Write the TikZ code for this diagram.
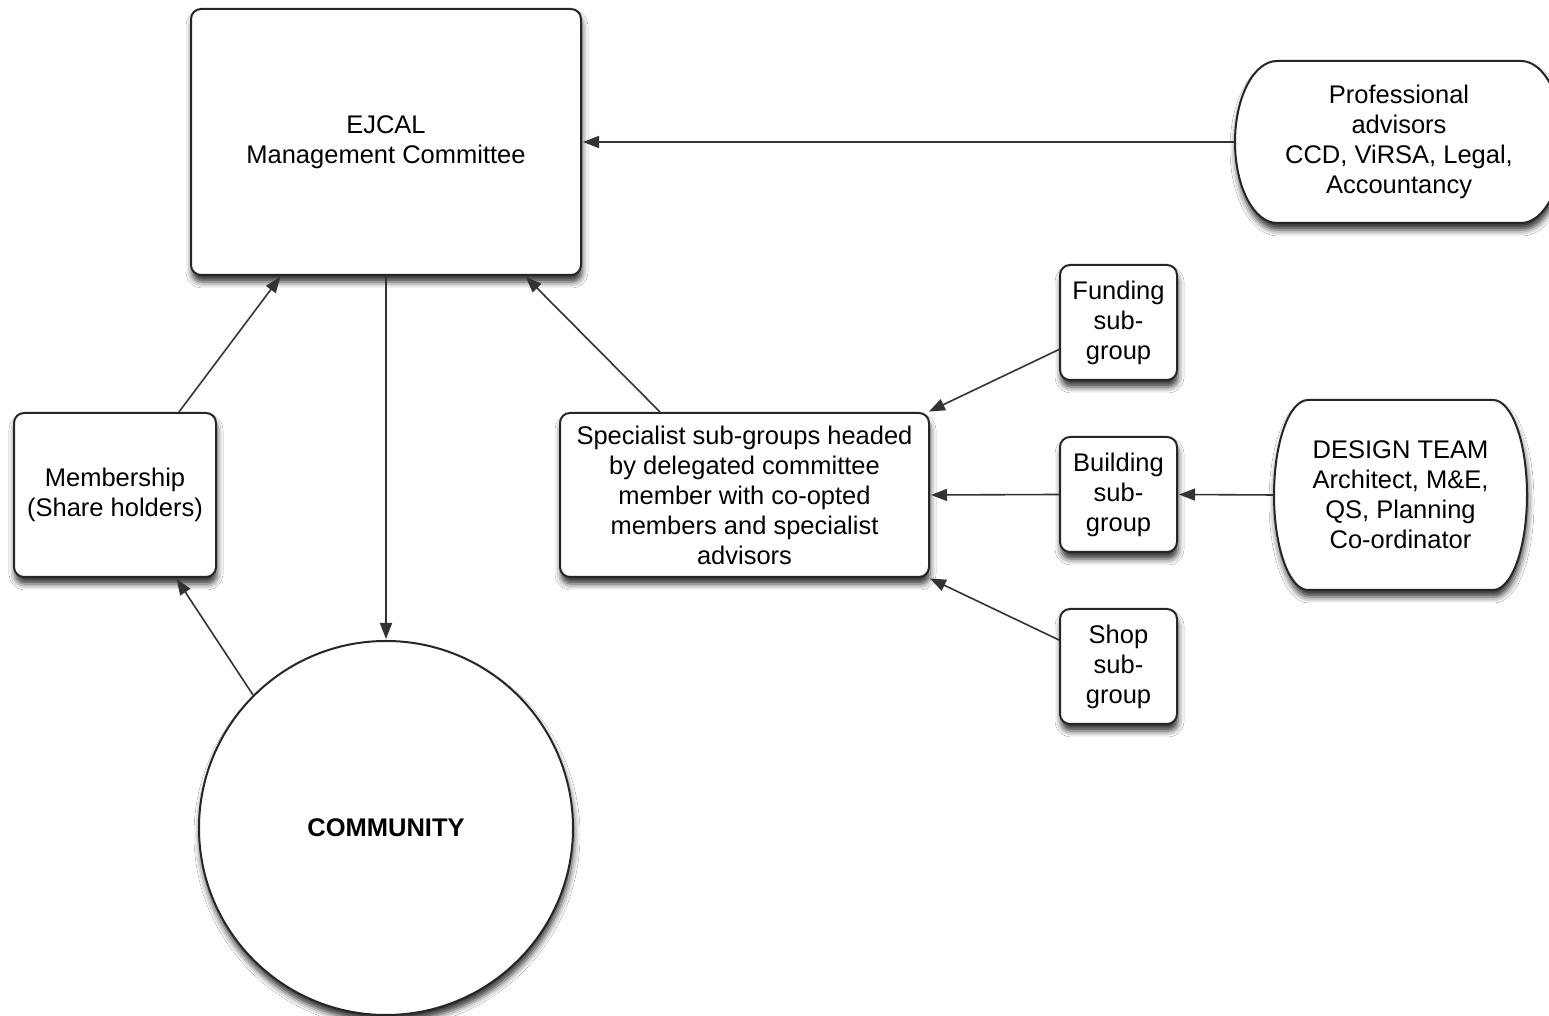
\documentclass[tikz,border=0pt]{standalone}
\usepackage{fontspec}
\setmainfont{Liberation Sans}
\usetikzlibrary{arrows.meta,calc,shadows.blur}
\begin{document}
\begin{tikzpicture}[x=1pt,y=1pt,
  font=\fontsize{25.5}{30}\selectfont,
  shad/.style={blur shadow={shadow xshift=1pt, shadow yshift=-7pt, shadow blur radius=6pt, shadow opacity=80}},
  box/.style={draw=black!85, line width=2pt, fill=white, rounded corners=10pt, inner sep=0pt, align=center, text=black, shad},
  plain/.style={inner sep=0pt, align=center, text=black},
  outline/.style={draw=black!85, line width=2pt, fill=white, shad},
  conn/.style={draw=black!80, line width=1.6pt, -{Triangle[length=16pt,width=12pt]}, shorten >=1pt}]
\useasboundingbox[fill=white] (0,0) rectangle (1549,1016);

% outlines of the two rounded-end shapes (text nodes placed on top below)
\draw[outline] (1277,955) -- (1521,955)
  arc[start angle=90, end angle=-90, x radius=42, y radius=81]
  -- (1277,793)
  arc[start angle=270, end angle=90, x radius=42, y radius=81] -- cycle;
\draw[outline] (1308,616) -- (1493,616)
  arc[start angle=90, end angle=-90, x radius=34, y radius=95]
  -- (1308,426)
  arc[start angle=270, end angle=90, x radius=34, y radius=95] -- cycle;

\node[box, minimum width=390, minimum height=266] (ej) at (386,874) {EJCAL\\Management Committee};
\node[plain, minimum width=328, minimum height=162] (pa) at (1399,874) {Professional\\advisors\\CCD, ViRSA, Legal,\\Accountancy};
\node[box, minimum width=202, minimum height=164] (mem) at (115,521) {Membership\\(Share holders)};
\node[box, minimum width=369, minimum height=164] (spec) at (744.5,521) {Specialist sub-groups headed\\by delegated committee\\member with co-opted\\members and specialist\\advisors};
\node[box, minimum width=117, minimum height=115] (fund) at (1118.5,693.5) {Funding\\sub-\\group};
\node[box, minimum width=117, minimum height=115] (bld) at (1118.5,521.5) {Building\\sub-\\group};
\node[box, minimum width=117, minimum height=115] (shop) at (1118.5,349.5) {Shop\\sub-\\group};
\node[plain, minimum width=253, minimum height=190] (des) at (1400.5,521) {DESIGN TEAM\\Architect, M\&E,\\QS, Planning\\Co-ordinator};
\node[circle, draw=black!85, line width=2pt, fill=white, shad, minimum size=374, inner sep=0pt, text=black, font=\fontsize{25.5}{30}\selectfont\bfseries] (com) at (386,188) {COMMUNITY};

\draw[conn] (pa.west) -- (ej.east);
\draw[conn] ([xshift=64pt]mem.north) -- ([xshift=-105pt]ej.south);
\draw[conn] (ej.south) -- (com.north);
\draw[conn] ([xshift=-84.5pt]spec.north) -- ([xshift=139pt]ej.south);
\draw[conn] (com.135) -- ([xshift=61pt]mem.south);
\draw[conn] ([yshift=-27pt]fund.west) -- ([xshift=-2pt]spec.north east);
\draw[conn] (bld.west) -- (spec.east);
\draw[conn] (des.west) -- (bld.east);
\draw[conn] ([yshift=26.5pt]shop.west) -- ([xshift=-1pt]spec.south east);
\end{tikzpicture}
\end{document}
